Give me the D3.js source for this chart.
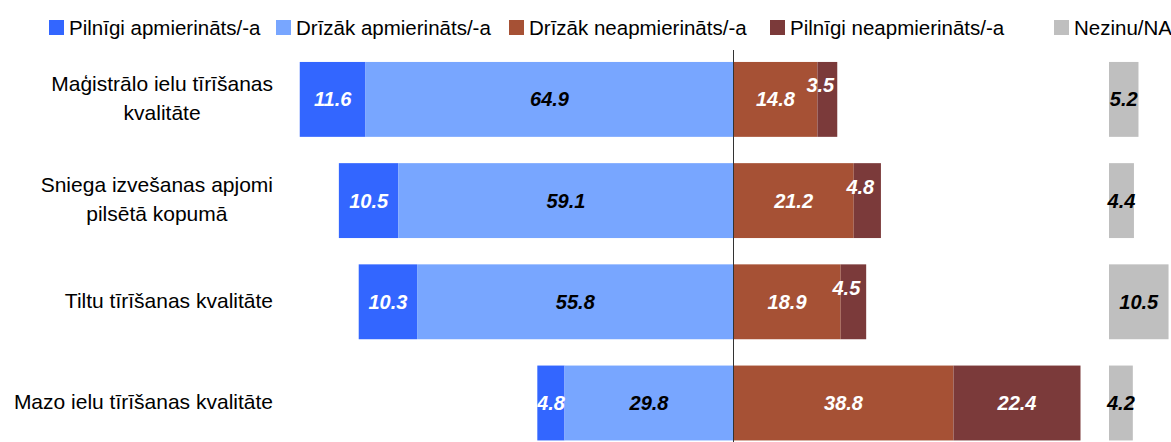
<!DOCTYPE html>
<html>
<head>
<meta charset="utf-8">
<script src="https://cdn.jsdelivr.net/npm/d3@7"></script>
<style>
  html, body { margin: 0; padding: 0; background: #fff; }
  svg { display: block; font-family: "Liberation Sans", Arial, sans-serif; }
</style>
</head>
<body>
<svg id="chart" width="1171" height="442"></svg>
<script>
// ---------- DATA ----------
const categories = [
  ["Maģistrālo ielu tīrīšanas", "kvalitāte"],
  ["Sniega izvešanas apjomi", "pilsētā kopumā"],
  ["Tiltu tīrīšanas kvalitāte"],
  ["Mazo ielu tīrīšanas kvalitāte"]
];
const seriesNames = [
  "Pilnīgi apmierināts/-a",
  "Drīzāk apmierināts/-a",
  "Drīzāk neapmierināts/-a",
  "Pilnīgi neapmierināts/-a",
  "Nezinu/NA"
];
const fullySatisfied    = [11.6, 10.5, 10.3, 4.8];
const ratherSatisfied   = [64.9, 59.1, 55.8, 29.8];
const ratherDissatisfied= [14.8, 21.2, 18.9, 38.8];
const fullyDissatisfied = [3.5, 4.8, 4.5, 22.4];
const dontKnow          = [5.2, 4.4, 10.5, 4.2];

// ---------- STYLE / LAYOUT ----------
const colors = ["#3366ff", "#78a6ff", "#a65135", "#7b3a3a", "#bfbfbf"];
const labelColors = ["#fff", "#000", "#fff", "#fff", "#000"];
const centerX = 733.5;
const pxPerUnit = 5.67;

const svg = d3.select("#chart");
const W = 1171, H = 442;

const x = d3.scaleLinear()
  .domain([-80, 70])
  .range([centerX - 80 * pxPerUnit, centerX + 70 * pxPerUnit]);
const xNA = d3.scaleLinear()
  .domain([0, 10.5])
  .range([1109, 1109 + 10.5 * pxPerUnit]);

const y = d3.scaleBand()
  .domain(d3.range(categories.length))
  .range([48.8, 453.6])
  .paddingInner(0.26)
  .paddingOuter(0.13);

const defs = svg.append("defs");

const rows = categories.map((c, i) => {
  const a = fullySatisfied[i], b = ratherSatisfied[i], cc = ratherDissatisfied[i], d = fullyDissatisfied[i];
  return {
    i,
    segs: [
      { s: 0, x0: -(a + b), x1: -b, v: a },
      { s: 1, x0: -b, x1: 0, v: b },
      { s: 2, x0: 0, x1: cc, v: cc },
      { s: 3, x0: cc, x1: cc + d, v: d }
    ],
    na: dontKnow[i]
  };
});

const labelFont = 20;

rows.forEach(r => {
  const y0 = y(r.i), bw = y.bandwidth(), yc = y0 + bw / 2;
  const left = x(r.segs[0].x0), right = x(r.segs[3].x1);
  const clipId = "clip" + r.i;
  defs.append("clipPath").attr("id", clipId)
    .append("rect").attr("x", left).attr("y", y0 - 30).attr("width", right - left).attr("height", bw + 60);

  const g = svg.append("g");
  g.selectAll("rect").data(r.segs).join("rect")
    .attr("x", d => x(d.x0))
    .attr("y", y0)
    .attr("width", d => x(d.x1) - x(d.x0))
    .attr("height", bw)
    .attr("fill", d => colors[d.s]);

  const narrow = d => d.s === 3 && (x(d.x1) - x(d.x0)) < 32;
  const lg = svg.append("g").attr("clip-path", `url(#${clipId})`);
  lg.selectAll("text").data(r.segs).join("text")
    .attr("x", d => (x(d.x0) + x(d.x1)) / 2 - (narrow(d) ? 7 : 0))
    .attr("y", d => yc + 7 - (narrow(d) ? 14 : 0))
    .attr("text-anchor", "middle")
    .attr("font-size", labelFont)
    .attr("font-weight", "bold")
    .attr("font-style", "italic")
    .attr("fill", d => labelColors[d.s])
    .text(d => d.v.toFixed(1));

  svg.append("rect")
    .attr("x", xNA(0)).attr("y", y0)
    .attr("width", xNA(r.na) - xNA(0)).attr("height", bw)
    .attr("fill", colors[4]);
  svg.append("text")
    .attr("x", (xNA(0) + xNA(r.na)) / 2)
    .attr("y", yc + 7)
    .attr("text-anchor", "middle")
    .attr("font-size", labelFont)
    .attr("font-weight", "bold")
    .attr("font-style", "italic")
    .attr("fill", labelColors[4])
    .text(r.na.toFixed(1));

  const lines = categories[r.i];
  const lineH = 29;
  const tg = svg.append("g");
  const texts = lines.map((ln, k) => tg.append("text")
    .attr("font-size", 21)
    .attr("fill", "#000")
    .attr("text-anchor", "middle")
    .attr("y", yc + 6 - (lines.length - 1) * lineH / 2 + k * lineH)
    .text(ln));
  const maxW = d3.max(texts, t => t.node().getComputedTextLength());
  texts.forEach(t => t.attr("x", 273 - maxW / 2));
});

svg.append("line")
  .attr("x1", x(0)).attr("x2", x(0))
  .attr("y1", 50).attr("y2", H)
  .attr("stroke", "#333").attr("stroke-width", 1);

const legendX = [49, 276, 509, 770, 1054];
const leg = svg.append("g");
seriesNames.forEach((n, k) => {
  leg.append("rect").attr("x", legendX[k]).attr("y", 20).attr("width", 15).attr("height", 15).attr("fill", colors[k]);
  leg.append("text").attr("x", legendX[k] + 20).attr("y", 35)
    .attr("font-size", 20.5).attr("fill", "#000").text(n);
});
</script>
</body>
</html>
